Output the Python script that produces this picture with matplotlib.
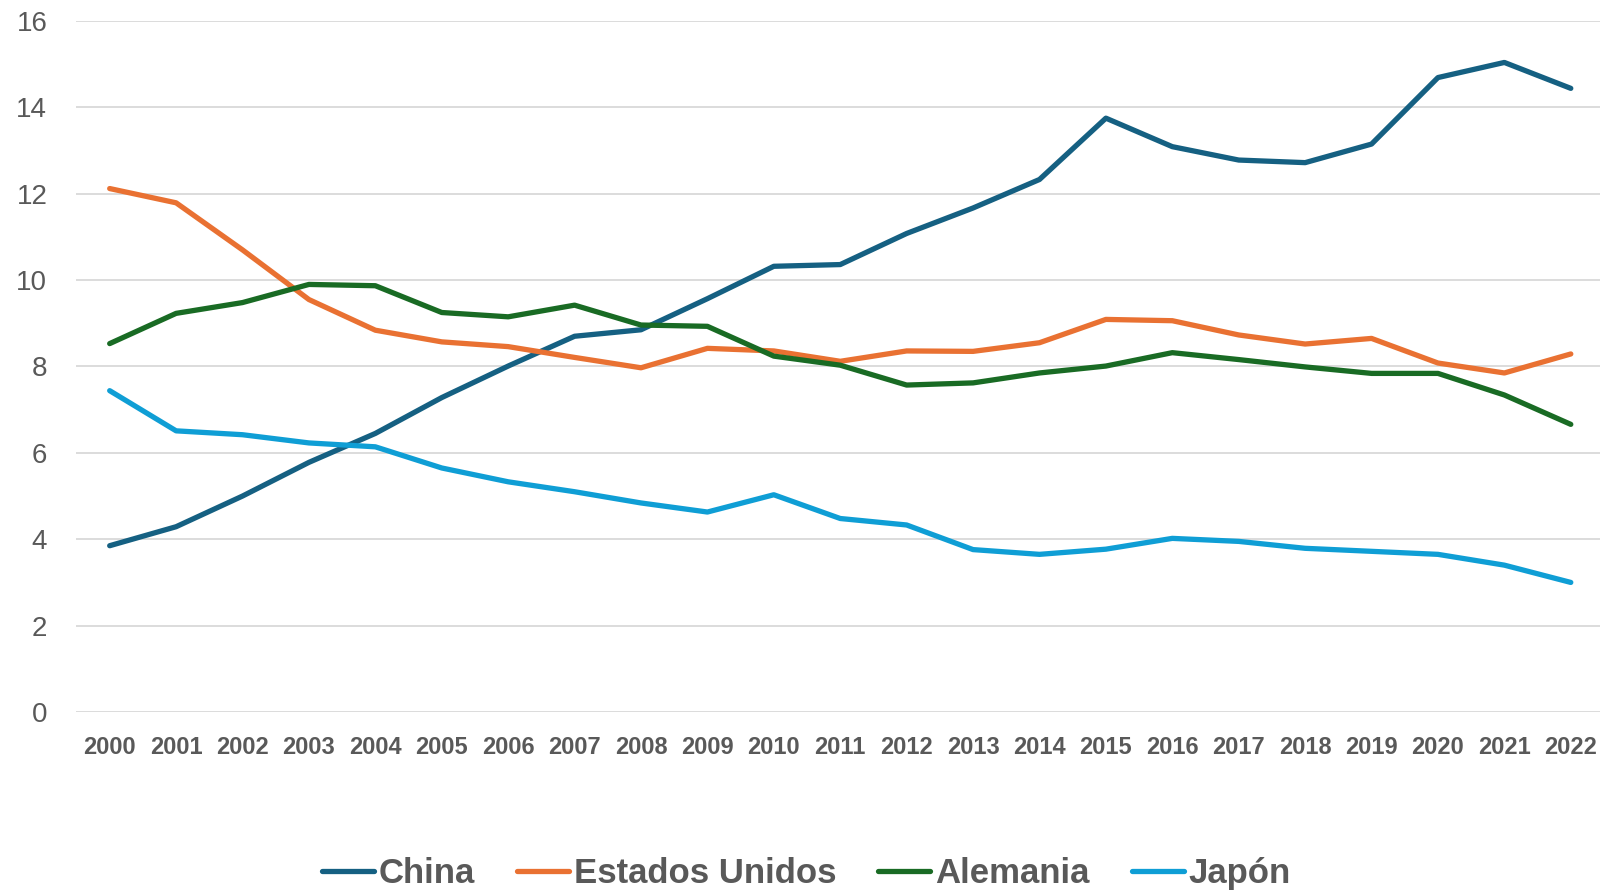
import numpy as np
import matplotlib.pyplot as plt

## Data
years = [str(y) for y in range(2000, 2023)]
china = [3.85, 4.29, 5.0, 5.78, 6.45, 7.28, 8.01, 8.70, 8.85, 9.57, 10.32, 10.36,
         11.08, 11.67, 12.33, 13.75, 13.09, 12.78, 12.72, 13.15, 14.69, 15.04, 14.44]
eeuu = [12.12, 11.79, 10.7, 9.55, 8.84, 8.57, 8.46, 8.21, 7.97, 8.42, 8.36, 8.12,
        8.36, 8.35, 8.55, 9.09, 9.06, 8.73, 8.52, 8.65, 8.08, 7.85, 8.29]
alemania = [8.53, 9.23, 9.48, 9.90, 9.87, 9.25, 9.15, 9.42, 8.96, 8.93, 8.24, 8.03,
            7.57, 7.62, 7.85, 8.01, 8.32, 8.16, 7.99, 7.84, 7.84, 7.34, 6.66]
japon = [7.44, 6.51, 6.42, 6.23, 6.14, 5.65, 5.33, 5.10, 4.84, 4.63, 5.03, 4.48,
         4.33, 3.76, 3.65, 3.77, 4.02, 3.95, 3.79, 3.72, 3.65, 3.40, 3.00]
series = ['China', 'Estados Unidos', 'Alemania', 'Japón']
colors = ['#156082', '#E97132', '#196B24', '#0F9ED5']

plt.rcParams['font.family'] = ['Liberation Sans', 'DejaVu Sans']
txt_color = '#595959'

fig = plt.figure(figsize=(16, 8.93), dpi=100)
ax = fig.add_axes([0.0478, 0.2027, 0.9547, 0.7738])

x = np.arange(len(years))
for name, vals, c in zip(series, [china, eeuu, alemania, japon], colors):
    ax.plot(x, vals, color=c, lw=3.8, solid_capstyle='round',
            solid_joinstyle='round', label=name)

ax.set_xlim(-0.5, len(years) - 0.5)
ax.set_ylim(0, 16)
ax.set_yticks(range(0, 17, 2))
ax.set_xticks(x)
ax.set_xticklabels(years, fontsize=17, fontweight='bold', color=txt_color)
plt.setp(ax.get_yticklabels(), fontsize=20, color=txt_color)
ax.tick_params(axis='y', length=0, pad=21)
ax.tick_params(axis='x', length=0, pad=17)
ax.grid(axis='y', color='#D9D9D9', lw=1.3)
ax.set_axisbelow(True)
for s in ax.spines.values():
    s.set_visible(False)

leg = fig.legend(loc='center', bbox_to_anchor=(0.504, 0.022), ncol=4,
                 frameon=False, handlelength=1.5, handletextpad=0.15,
                 columnspacing=1.2, prop={'size': 25, 'weight': 'bold'})
for t in leg.get_texts():
    t.set_color(txt_color)

fig.savefig('out.png', dpi=100)
